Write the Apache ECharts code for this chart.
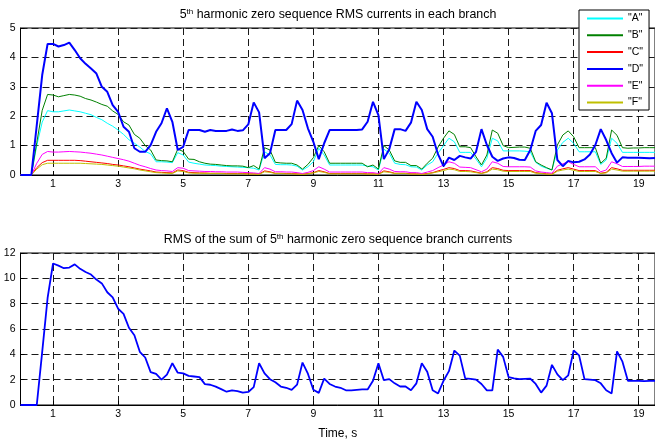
<!DOCTYPE html>
<html>
<head>
<meta charset="utf-8">
<script src="https://cdn.jsdelivr.net/npm/echarts@6/dist/echarts.min.js"></script>
<style>
html,body{margin:0;padding:0;background:#fff;}
#chart{width:655px;height:441px;}
</style>
</head>
<body>
<div id="chart"></div>
<script>
// Sample times, s (1/6 s step)
const time = [
0,0.167,0.333,0.5,0.667,0.833,1,1.167,1.333,1.5,1.667,1.833,
2,2.167,2.333,2.5,2.667,2.833,3,3.167,3.333,3.5,3.667,3.833,
4,4.167,4.333,4.5,4.667,4.833,5,5.167,5.333,5.5,5.667,5.833,
6,6.167,6.333,6.5,6.667,6.833,7,7.167,7.333,7.5,7.667,7.833,
8,8.167,8.333,8.5,8.667,8.833,9,9.167,9.333,9.5,9.667,9.833,
10,10.167,10.333,10.5,10.667,10.833,11,11.167,11.333,11.5,11.667,11.833,
12,12.167,12.333,12.5,12.667,12.833,13,13.167,13.333,13.5,13.667,13.833,
14,14.167,14.333,14.5,14.667,14.833,15,15.167,15.333,15.5,15.667,15.833,
16,16.167,16.333,16.5,16.667,16.833,17,17.167,17.333,17.5,17.667,17.833,
18,18.167,18.333,18.5,18.667,18.833,19,19.167,19.333,19.5];

const branchA = [0,0,0,1.0,1.8,2.19,2.15,2.15,2.18,2.21,
2.18,2.15,2.1,2.05,1.96,1.88,1.76,1.66,1.53,1.38,
1.2,1.08,0.95,0.8,0.72,0.45,0.45,0.44,0.42,0.76,
0.68,0.44,0.4,0.37,0.34,0.33,0.32,0.3,0.29,0.28,
0.27,0.26,0.25,0.23,0.17,0.79,0.68,0.36,0.35,0.35,
0.34,0.3,0.17,0.28,0.45,0.91,0.68,0.34,0.34,0.34,
0.34,0.34,0.34,0.34,0.3,0.28,0.17,0.88,0.74,0.4,
0.36,0.35,0.28,0.27,0.17,0.34,0.45,0.74,1.0,1.25,
1.13,0.77,0.77,0.77,0.54,0.28,0.57,1.25,1.16,0.82,
0.82,0.82,0.82,0.81,0.79,0.43,0.3,0.23,0.17,0.85,
1.11,1.25,1.08,0.79,0.79,0.79,0.79,0.36,0.51,1.25,
1.08,0.77,0.77,0.77,0.77,0.77,0.77,0.77];

const branchB = [0,0,0,1.1,2.2,2.74,2.72,2.66,2.7,2.74,
2.72,2.68,2.6,2.55,2.48,2.4,2.34,2.18,2.06,1.81,
1.7,1.38,1.25,1.0,0.85,0.51,0.49,0.48,0.45,0.88,
0.8,0.54,0.53,0.45,0.4,0.37,0.36,0.34,0.32,0.31,
0.31,0.3,0.25,0.32,0.2,0.93,0.85,0.43,0.41,0.4,
0.4,0.34,0.2,0.36,0.59,1.0,0.79,0.4,0.4,0.4,
0.4,0.4,0.4,0.4,0.28,0.34,0.2,1.0,0.85,0.48,
0.43,0.43,0.32,0.32,0.2,0.4,0.57,0.95,1.25,1.5,
1.38,0.96,0.96,0.93,0.62,0.34,0.68,1.53,1.42,1.0,
0.93,0.94,0.95,0.95,0.91,0.45,0.34,0.25,0.17,1.02,
1.36,1.5,1.3,0.93,0.93,0.93,0.93,0.4,0.57,1.53,
1.35,0.93,0.91,0.92,0.92,0.93,0.93,0.93];

const branchC = [0,0,0,0.25,0.42,0.5,0.5,0.5,0.5,0.5,
0.5,0.49,0.47,0.45,0.43,0.41,0.39,0.36,0.34,0.31,
0.28,0.24,0.2,0.17,0.14,0.1,0.09,0.08,0.07,0.17,
0.15,0.09,0.08,0.07,0.07,0.06,0.06,0.06,0.05,0.05,
0.05,0.05,0.04,0.04,0.03,0.14,0.11,0.06,0.06,0.05,
0.05,0.04,0.03,0.05,0.08,0.15,0.11,0.05,0.05,0.05,
0.05,0.05,0.05,0.05,0.04,0.04,0.03,0.14,0.11,0.06,
0.06,0.06,0.04,0.04,0.03,0.05,0.08,0.14,0.19,0.25,
0.22,0.15,0.15,0.14,0.1,0.06,0.11,0.25,0.22,0.16,
0.15,0.15,0.15,0.15,0.15,0.08,0.06,0.04,0.03,0.16,
0.21,0.25,0.2,0.15,0.15,0.15,0.15,0.06,0.09,0.25,
0.21,0.16,0.16,0.16,0.16,0.16,0.16,0.16];

const branchD = [0,0,0,1.7,3.4,4.46,4.46,4.37,4.42,4.5,
4.25,3.97,3.78,3.62,3.45,3.0,2.83,2.38,2.15,1.64,
1.47,0.91,0.79,0.79,1.02,1.47,1.76,2.27,1.81,0.85,
0.96,1.53,1.53,1.53,1.47,1.53,1.5,1.5,1.5,1.55,
1.5,1.52,1.72,2.47,2.13,0.57,0.74,1.53,1.53,1.53,
1.73,2.53,2.21,1.59,1.13,0.54,1.08,1.53,1.53,1.53,
1.53,1.53,1.53,1.55,1.81,2.49,2.04,0.54,0.88,1.56,
1.56,1.5,1.78,2.49,2.21,1.56,1.3,0.7,0.3,0.59,
0.51,0.65,0.6,0.56,0.79,1.56,1.02,0.62,0.48,0.56,
0.6,0.58,0.52,0.51,0.85,1.5,1.7,2.46,2.1,0.51,
0.3,0.48,0.43,0.45,0.53,0.7,1.02,1.56,1.19,0.74,
0.42,0.6,0.59,0.59,0.59,0.58,0.57,0.58];

const branchE = [0,0,0,0.4,0.7,0.8,0.78,0.78,0.79,0.8,
0.79,0.78,0.76,0.74,0.71,0.68,0.64,0.6,0.56,0.52,
0.47,0.4,0.33,0.28,0.22,0.17,0.15,0.14,0.12,0.25,
0.23,0.15,0.14,0.13,0.12,0.12,0.11,0.11,0.1,0.1,
0.1,0.09,0.08,0.07,0.05,0.25,0.2,0.11,0.11,0.1,
0.1,0.08,0.05,0.09,0.15,0.28,0.2,0.1,0.1,0.1,
0.1,0.1,0.1,0.1,0.08,0.08,0.05,0.25,0.2,0.12,
0.11,0.11,0.08,0.08,0.05,0.1,0.15,0.25,0.34,0.45,
0.4,0.27,0.26,0.25,0.18,0.11,0.2,0.45,0.4,0.29,
0.28,0.28,0.28,0.28,0.27,0.14,0.1,0.08,0.06,0.3,
0.38,0.45,0.36,0.28,0.28,0.28,0.28,0.11,0.17,0.45,
0.38,0.29,0.29,0.29,0.29,0.3,0.3,0.3];

const branchF = [0,0,0,0.2,0.35,0.4,0.4,0.4,0.4,0.4,
0.4,0.4,0.39,0.38,0.37,0.36,0.34,0.32,0.3,0.27,
0.24,0.21,0.17,0.14,0.11,0.08,0.07,0.06,0.05,0.14,
0.12,0.07,0.06,0.06,0.05,0.05,0.05,0.05,0.04,0.04,
0.04,0.04,0.03,0.03,0.02,0.11,0.09,0.05,0.05,0.04,
0.04,0.03,0.02,0.04,0.07,0.12,0.09,0.04,0.04,0.04,
0.04,0.04,0.04,0.04,0.03,0.03,0.02,0.11,0.09,0.05,
0.05,0.05,0.03,0.03,0.02,0.04,0.07,0.11,0.15,0.2,
0.18,0.12,0.12,0.11,0.08,0.05,0.09,0.2,0.18,0.13,
0.12,0.12,0.12,0.12,0.12,0.06,0.05,0.03,0.02,0.13,
0.17,0.2,0.16,0.12,0.12,0.12,0.12,0.05,0.07,0.2,
0.17,0.13,0.13,0.13,0.13,0.13,0.13,0.13];

const sumRMS = [0,0,0,0,4.2,8.45,11.17,11.0,10.8,10.85,
11.1,10.75,10.5,10.3,9.9,9.6,8.9,8.5,7.6,7.2,
6.1,5.5,4.2,3.75,2.6,2.45,2.0,2.4,3.3,2.55,
2.5,2.3,2.25,2.2,1.65,1.6,1.45,1.25,1.05,1.15,
1.1,0.98,1.03,1.41,3.3,2.5,2.04,1.79,1.46,1.36,
1.2,1.61,3.35,2.47,1.2,0.96,2.09,1.66,1.46,1.36,
1.16,1.16,1.2,1.23,1.23,1.91,3.3,1.96,2.04,1.71,
1.46,1.46,1.16,1.71,3.3,2.62,1.16,0.91,1.91,2.67,
4.3,3.9,2.1,2.06,2.0,1.66,1.16,1.16,4.38,3.8,
2.21,2.1,2.04,2.07,2.09,1.66,0.98,1.53,3.17,2.42,
1.96,2.34,4.3,3.92,2.04,2.0,1.96,1.71,1.16,0.91,
4.23,3.42,1.91,1.91,1.9,1.88,1.9,1.91];

const xTickValues = [1,3,5,7,9,11,13,15,17,19];
const seriesNames = ['"A"','"B"','"C"','"D"','"E"','"F"'];
const seriesColors = ['#00FFFF','#008000','#FF0000','#0000FF','#FF00FF','#BFBF00'];
const branchData = [branchA, branchB, branchC, branchD, branchE, branchF];

const FONT = 'Liberation Sans, Arial, Helvetica, sans-serif';
const chart = echarts.init(document.getElementById('chart'), null, {renderer:'canvas'});

function xAxisCfg(gi, extra){
  return Object.assign({
    type:'value', gridIndex:gi, min:0, max:19.5,
    axisLine:{show:true, onZero:false, lineStyle:{color:'#000', width:1}},
    axisTick:{show:true, inside:true, length:4, customValues:xTickValues, lineStyle:{color:'#000'}},
    axisLabel:{customValues:xTickValues, color:'#000', fontSize:10.5, fontFamily:FONT, margin:4},
    splitLine:{show:true, lineStyle:{color:'#1a1a1a', width:1, type:[7,4]}}
  }, extra||{});
}
function yAxisCfg(gi, max, interval){
  return {
    type:'value', gridIndex:gi, min:0, max:max, interval:interval,
    axisLine:{show:true, lineStyle:{color:'#000', width:1}},
    axisTick:{show:true, inside:true, length:4, lineStyle:{color:'#000'}},
    axisLabel:{color:'#000', fontSize:10.5, fontFamily:FONT, margin:5},
    splitLine:{show:true, lineStyle:{color:'#1a1a1a', width:1, type:[7,4]}}
  };
}

const series = branchData.map((arr, i) => ({
  name: seriesNames[i], type:'line', xAxisIndex:0, yAxisIndex:0,
  data: time.map((t, k) => [t, arr[k]]),
  symbol:'none', showSymbol:false,
  lineStyle:{color:seriesColors[i], width: i===3 ? 2 : 1},
  itemStyle:{color:seriesColors[i]},
  z: i===3 ? 3 : 2
}));
series.push({
  name:'sum', type:'line', xAxisIndex:1, yAxisIndex:1,
  data: time.map((t, k) => [t, sumRMS[k]]),
  symbol:'none', showSymbol:false,
  lineStyle:{color:'#0000FF', width:1.8}, itemStyle:{color:'#0000FF'}
});

const titleRich = {
  n:{fontSize:12.4, fontFamily:FONT, fill:'#000', lineHeight:15},
  s:{fontSize:8, fontFamily:FONT, fill:'#000', verticalAlign:'top', lineHeight:15}
};

chart.setOption({
  animation:false,
  backgroundColor:'#fff',
  grid:[
    {left:20.5, top:28, right:0, height:147, show:true, borderColor:'#000', borderWidth:1, backgroundColor:'transparent'},
    {left:20.5, top:253, right:0, height:159, show:true, borderColor:'#000', borderWidth:1, backgroundColor:'transparent'}
  ],
  xAxis:[
    xAxisCfg(0),
    xAxisCfg(1, {name:'Time, s', nameLocation:'middle', nameGap:23,
      nameTextStyle:{color:'#000', fontSize:12, fontFamily:FONT}})
  ],
  yAxis:[ yAxisCfg(0, 5, 1), yAxisCfg(1, 12, 2) ],
  legend:{
    data:seriesNames, orient:'vertical', left:579, top:10,
    padding:[3,6,2,7], itemGap:5.8, itemWidth:36, itemHeight:10,
    backgroundColor:'#fff', borderColor:'#000', borderWidth:1, borderRadius:0,
    itemStyle:{opacity:0},
    textStyle:{color:'#000', fontSize:10.5, fontFamily:FONT, lineHeight:11},
    selectedMode:false
  },
  graphic:[
    {type:'text', x:338, y:15, z:10, style:{
      text:'{n|5}{s|th}{n| harmonic zero sequence RMS currents in each branch}',
      rich:titleRich, align:'center', verticalAlign:'middle'}},
    {type:'text', x:338, y:240, z:10, style:{
      text:'{n|RMS of the sum of 5}{s|th}{n| harmonic zero sequence branch currents}',
      rich:titleRich, align:'center', verticalAlign:'middle'}}
  ],
  series:series
});
</script>
</body>
</html>
